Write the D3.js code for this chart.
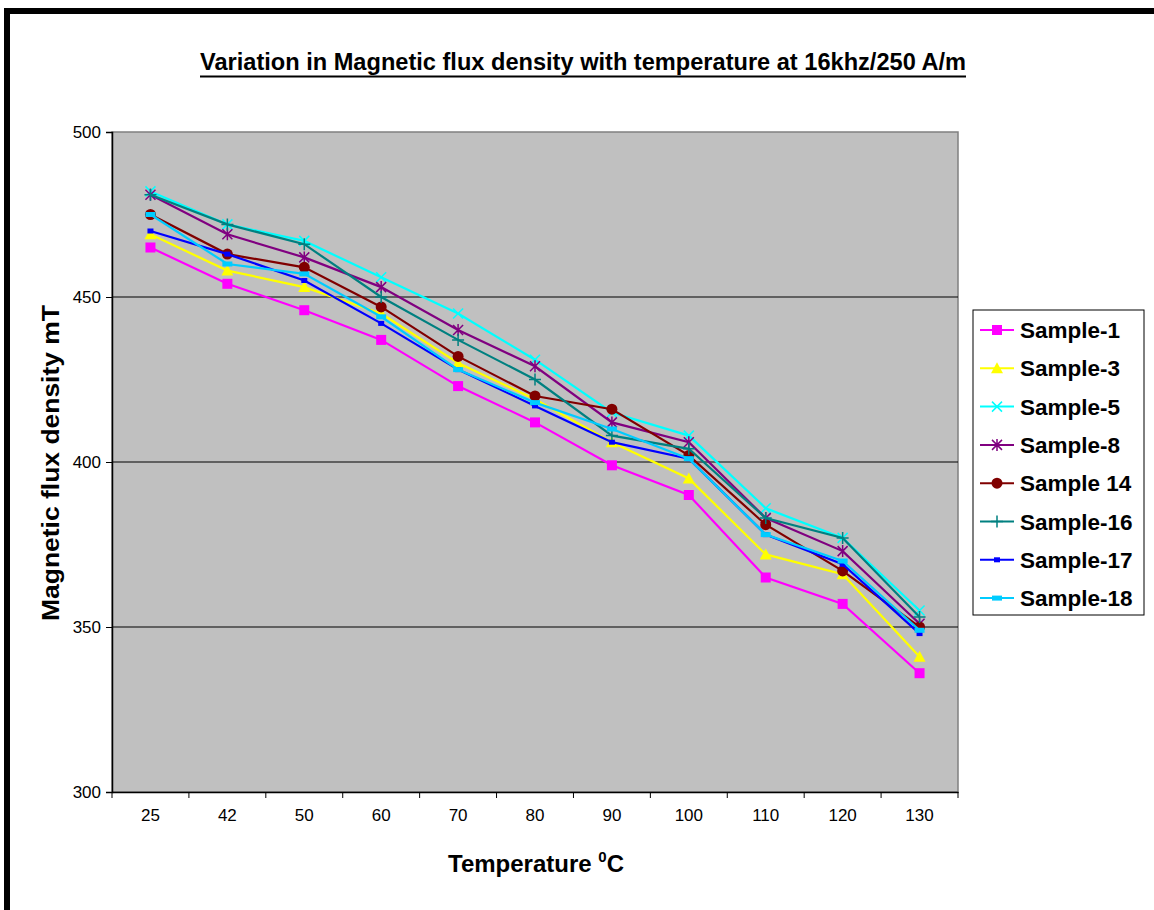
<!DOCTYPE html>
<html>
<head>
<meta charset="utf-8">
<script src="https://cdn.jsdelivr.net/npm/d3@7/dist/d3.min.js"></script>
<style>
  html, body { margin: 0; padding: 0; background: #fff; }
  svg { display: block; font-family: "Liberation Sans", Arial, sans-serif; }
</style>
</head>
<body>
<svg id="chart" width="1154" height="910"></svg>
<script>
// Temperature categories (°C)
const temperatures = ["25", "42", "50", "60", "70", "80", "90", "100", "110", "120", "130"];
const yTicks = [300, 350, 400, 450, 500];

// Magnetic flux density (mT) per sample
const sample1  = [465, 454, 446, 437, 423, 412, 399, 390, 365, 357, 336];
const sample3  = [469, 458, 453, 445, 430, 419, 406, 395, 372, 366, 341];
const sample5  = [482, 472, 467, 456, 445, 431, 415, 408, 386, 377, 355];
const sample8  = [481, 469, 462, 453, 440, 429, 412, 406, 383, 373, 351];
const sample14 = [475, 463, 459, 447, 432, 420, 416, 402, 381, 367, 350];
const sample16 = [481, 472, 466, 450, 437, 425, 408, 404, 383, 377, 353];
const sample17 = [470, 463, 455, 442, 428, 417, 406, 401, 378, 369, 348];
const sample18 = [475, 460, 457, 444, 428, 418, 410, 401, 378, 370, 349];

const seriesNames = ["Sample-1", "Sample-3", "Sample-5", "Sample-8", "Sample 14", "Sample-16", "Sample-17", "Sample-18"];
const seriesValues = [sample1, sample3, sample5, sample8, sample14, sample16, sample17, sample18];
const seriesColors = ["#FF00FF", "#FFFF00", "#00FFFF", "#800080", "#800000", "#008080", "#0000FF", "#00CCFF"];
const seriesMarkers = ["square", "triangle", "cross", "asterisk", "circle", "plus", "smallrect", "dash"];

const series = seriesNames.map((name, i) => ({
  name, values: seriesValues[i], color: seriesColors[i], marker: seriesMarkers[i]
}));

const svg = d3.select("#chart");

// Outer frame (left and top edges)
svg.append("rect").attr("x", 4).attr("y", 8).attr("width", 1150).attr("height", 6).attr("fill", "#000");
svg.append("rect").attr("x", 4).attr("y", 8).attr("width", 6).attr("height", 902).attr("fill", "#000");

const plot = { left: 112, top: 132, right: 958, bottom: 792 };

const x = d3.scaleBand().domain(temperatures).range([plot.left, plot.right]).padding(0);
const y = d3.scaleLinear().domain([300, 500]).range([plot.bottom, plot.top]);
const cx = d => x(d) + x.bandwidth() / 2;

// Plot area
svg.append("rect")
  .attr("x", plot.left).attr("y", plot.top)
  .attr("width", plot.right - plot.left).attr("height", plot.bottom - plot.top)
  .attr("fill", "#C0C0C0").attr("stroke", "#808080").attr("stroke-width", 1.5);

// Horizontal gridlines
svg.append("g").selectAll("line")
  .data(yTicks.filter(v => v > 300 && v < 500))
  .join("line")
  .attr("x1", plot.left).attr("x2", plot.right)
  .attr("y1", d => y(d)).attr("y2", d => y(d))
  .attr("stroke", "#000").attr("stroke-width", 1);

// Y axis
const yAxis = svg.append("g")
  .attr("transform", `translate(${plot.left},0)`)
  .call(d3.axisLeft(y).tickValues(yTicks).tickSize(6).tickPadding(5));
yAxis.select(".domain").attr("stroke", "#000").attr("stroke-width", 1.5);
yAxis.selectAll(".tick line").attr("stroke", "#000");
yAxis.selectAll("text").attr("font-size", 17).attr("fill", "#000")
  .attr("font-family", "Liberation Sans, Arial, sans-serif");

// X axis with ticks between categories
const xAxis = svg.append("g")
  .attr("transform", `translate(0,${plot.bottom})`)
  .call(d3.axisBottom(x).tickSize(0).tickPadding(17));
xAxis.select(".domain").attr("stroke", "#000").attr("stroke-width", 1.5);
xAxis.selectAll("text").attr("font-size", 17).attr("fill", "#000")
  .attr("font-family", "Liberation Sans, Arial, sans-serif");
svg.append("g").selectAll("line")
  .data(temperatures.concat(["end"]))
  .join("line")
  .attr("x1", (d, i) => plot.left + i * x.bandwidth())
  .attr("x2", (d, i) => plot.left + i * x.bandwidth())
  .attr("y1", plot.bottom).attr("y2", plot.bottom + 6)
  .attr("stroke", "#000");

// Marker drawing
function drawMarker(g, type, color, cxp, cyp, scale) {
  const s = scale || 1;
  switch (type) {
    case "square":
      g.append("rect").attr("x", cxp - 5 * s).attr("y", cyp - 5 * s)
        .attr("width", 10 * s).attr("height", 10 * s).attr("fill", color);
      break;
    case "triangle":
      g.append("path")
        .attr("d", `M${cxp},${cyp - 6 * s}L${cxp + 6 * s},${cyp + 5 * s}L${cxp - 6 * s},${cyp + 5 * s}Z`)
        .attr("fill", color);
      break;
    case "cross":
      g.append("path")
        .attr("d", `M${cxp - 5 * s},${cyp - 5 * s}L${cxp + 5 * s},${cyp + 5 * s}M${cxp + 5 * s},${cyp - 5 * s}L${cxp - 5 * s},${cyp + 5 * s}`)
        .attr("stroke", color).attr("stroke-width", 1.5).attr("fill", "none");
      break;
    case "asterisk":
      g.append("path")
        .attr("d", `M${cxp - 5 * s},${cyp - 5 * s}L${cxp + 5 * s},${cyp + 5 * s}M${cxp + 5 * s},${cyp - 5 * s}L${cxp - 5 * s},${cyp + 5 * s}M${cxp},${cyp - 6 * s}L${cxp},${cyp + 6 * s}`)
        .attr("stroke", color).attr("stroke-width", 1.5).attr("fill", "none");
      break;
    case "circle":
      g.append("circle").attr("cx", cxp).attr("cy", cyp).attr("r", 5.5 * s).attr("fill", color);
      break;
    case "plus":
      g.append("path")
        .attr("d", `M${cxp - 6 * s},${cyp}L${cxp + 6 * s},${cyp}M${cxp},${cyp - 6 * s}L${cxp},${cyp + 6 * s}`)
        .attr("stroke", color).attr("stroke-width", 1.5).attr("fill", "none");
      break;
    case "smallrect":
      g.append("rect").attr("x", cxp - 3 * s).attr("y", cyp - 2.5 * s)
        .attr("width", 6 * s).attr("height", 5 * s).attr("fill", color);
      break;
    case "dash":
      g.append("rect").attr("x", cxp - 5 * s).attr("y", cyp - 2.5 * s)
        .attr("width", 10 * s).attr("height", 5 * s).attr("fill", color);
      break;
  }
}

// Series lines and markers
const line = d3.line().x((d, i) => cx(temperatures[i])).y(d => y(d));
const seriesG = svg.append("g");
series.forEach(s => {
  const g = seriesG.append("g");
  g.append("path").datum(s.values)
    .attr("d", line).attr("fill", "none")
    .attr("stroke", s.color).attr("stroke-width", 2.2);
  s.values.forEach((v, i) => drawMarker(g, s.marker, s.color, cx(temperatures[i]), y(v)));
});

// Legend
const legend = { x: 973, y: 310, w: 171, h: 305 };
svg.append("rect")
  .attr("x", legend.x).attr("y", legend.y).attr("width", legend.w).attr("height", legend.h)
  .attr("fill", "#fff").attr("stroke", "#000").attr("stroke-width", 1);
const rowH = 38.3;
series.forEach((s, i) => {
  const ly = legend.y + 20 + i * rowH;
  const g = svg.append("g");
  g.append("line").attr("x1", 980).attr("x2", 1014).attr("y1", ly).attr("y2", ly)
    .attr("stroke", s.color).attr("stroke-width", 2);
  drawMarker(g, s.marker, s.color, 997, ly, 1);
  g.append("text").attr("x", 1020).attr("y", ly + 8)
    .attr("font-size", 22.5).attr("font-weight", "bold").attr("fill", "#000")
    .text(s.name);
});

// Title
svg.append("text")
  .attr("x", 583).attr("y", 70).attr("text-anchor", "middle")
  .attr("font-size", 23).attr("font-weight", "bold").attr("fill", "#000")
  .attr("textLength", 766).attr("lengthAdjust", "spacingAndGlyphs")
  .text("Variation in Magnetic flux density with temperature at 16khz/250 A/m");
svg.append("line").attr("x1", 200).attr("x2", 966).attr("y1", 76.5).attr("y2", 76.5)
  .attr("stroke", "#000").attr("stroke-width", 2);

// Y axis title
svg.append("text")
  .attr("transform", "translate(59,463) rotate(-90)")
  .attr("text-anchor", "middle")
  .attr("font-size", 24).attr("font-weight", "bold").attr("fill", "#000")
  .attr("textLength", 316).attr("lengthAdjust", "spacingAndGlyphs")
  .text("Magnetic flux density mT");

// X axis title with superscript degree
const xt = svg.append("text")
  .attr("x", 536).attr("y", 872).attr("text-anchor", "middle")
  .attr("font-size", 24).attr("font-weight", "bold").attr("fill", "#000");
xt.append("tspan").text("Temperature ");
xt.append("tspan").attr("font-size", 15).attr("dy", -10).text("0");
xt.append("tspan").attr("dy", 10).text("C");
</script>
</body>
</html>
